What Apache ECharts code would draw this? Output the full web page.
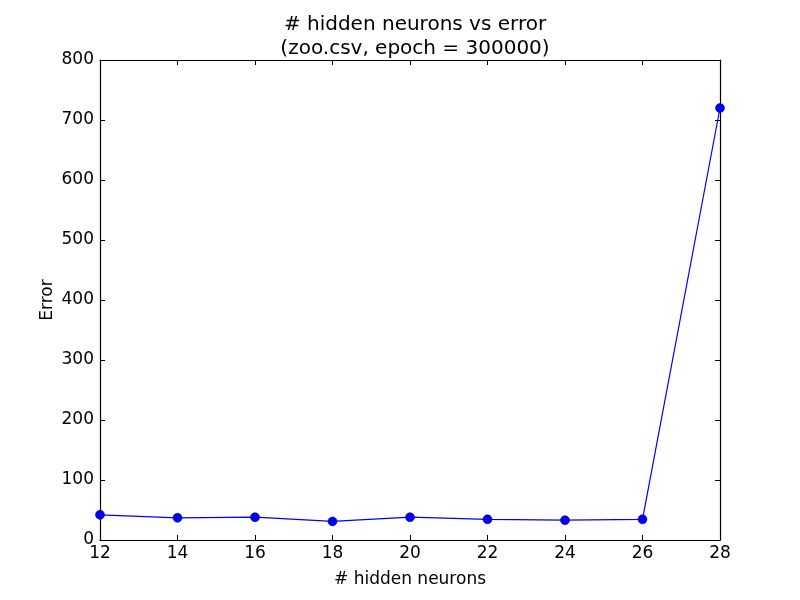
<!DOCTYPE html>
<html>
<head>
<meta charset="utf-8">
<script src="https://cdn.jsdelivr.net/npm/echarts@6/dist/echarts.min.js"></script>
<style>
  html, body { margin: 0; padding: 0; background: #fff; }
  #chart { width: 800px; height: 600px; }
</style>
</head>
<body>
<div id="chart"></div>
<script>
// hidden neuron counts and error
var neurons = [12, 14, 16, 18, 20, 22, 24, 26, 28];
var errors = [42, 37, 38, 31, 38, 34.5, 33, 34.5, 720];

var points = [];
for (var i = 0; i < neurons.length; i++) {
    points.push([neurons[i], errors[i]]);
}

var font = 'DejaVu Sans';
var chart = echarts.init(document.getElementById('chart'));

// matplotlib-style: ticks inward, box all round
var tickIn = { show: true, inside: true, length: 5, lineStyle: { color: '#000', width: 1 } };
var frame = { show: true, onZero: false, lineStyle: { color: '#000', width: 1.2 } };

var option = {
    animation: false,
    backgroundColor: '#fff',
    title: {
        text: '# hidden neurons vs error\n(zoo.csv, epoch = 300000)',
        left: 410,
        top: 8,
        textAlign: 'center',
        textStyle: { fontFamily: font, fontSize: 20, fontWeight: 'normal', color: '#000', lineHeight: 24 }
    },
    grid: { left: 100, right: 80, top: 60, bottom: 60, containLabel: false },
    xAxis: [{
        type: 'value',
        min: 12, max: 28, interval: 2,
        name: '# hidden neurons',
        nameLocation: 'middle',
        nameGap: 31,
        nameTextStyle: { fontFamily: font, fontSize: 17, color: '#000' },
        axisLine: frame,
        axisTick: tickIn,
        axisLabel: { fontFamily: font, fontSize: 17, color: '#000', margin: 5 },
        splitLine: { show: false }
    }, {
        type: 'value',
        position: 'top',
        min: 12, max: 28, interval: 2,
        axisLine: frame,
        axisTick: tickIn,
        axisLabel: { show: false },
        splitLine: { show: false }
    }],
    yAxis: [{
        type: 'value',
        min: 0, max: 800, interval: 100,
        name: 'Error',
        nameLocation: 'middle',
        nameGap: 44,
        nameMoveOverlap: false,
        nameTextStyle: { fontFamily: font, fontSize: 17, color: '#000' },
        axisLine: frame,
        axisTick: tickIn,
        axisLabel: { fontFamily: font, fontSize: 17, color: '#000', margin: 6 },
        splitLine: { show: false }
    }, {
        type: 'value',
        position: 'right',
        min: 0, max: 800, interval: 100,
        axisLine: frame,
        axisTick: tickIn,
        axisLabel: { show: false },
        splitLine: { show: false }
    }],
    series: [{
        type: 'line',
        data: points,
        symbol: 'circle',
        symbolSize: 9,
        clip: false,
        lineStyle: { color: '#0000ff', width: 1.2 },
        itemStyle: { color: '#0000ff', borderColor: '#000', borderWidth: 0.5 }
    }]
};

chart.setOption(option);
</script>
</body>
</html>
